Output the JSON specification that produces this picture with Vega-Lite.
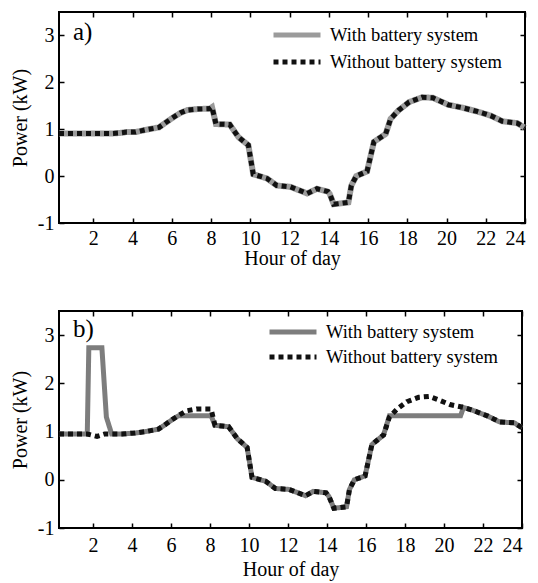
{
  "$schema": "https://vega.github.io/schema/vega-lite/v6.json",
  "padding": {"left": 9, "top": 10, "right": 4, "bottom": 2},
  "config": {
    "font": "Liberation Serif",
    "view": {"stroke": "black", "strokeWidth": 2},
    "axis": {"domain": false, "grid": false, "tickColor": "black", "tickWidth": 1.5, "tickSize": -5, "labelFont": "Liberation Serif", "labelFontSize": 20, "labelColor": "black", "titleFont": "Liberation Serif", "titleFontSize": 20, "titleFontWeight": "normal", "titleColor": "black", "labelPadding": 10}
  },
  "datasets": {
    "rows": [
      {"panel":"a","series":"With battery system","hour":0.25,"power":0.91},
      {"panel":"a","series":"With battery system","hour":1,"power":0.91},
      {"panel":"a","series":"With battery system","hour":2,"power":0.91},
      {"panel":"a","series":"With battery system","hour":3,"power":0.91},
      {"panel":"a","series":"With battery system","hour":3.35,"power":0.92},
      {"panel":"a","series":"With battery system","hour":3.7,"power":0.94},
      {"panel":"a","series":"With battery system","hour":4.15,"power":0.94},
      {"panel":"a","series":"With battery system","hour":4.7,"power":0.99},
      {"panel":"a","series":"With battery system","hour":5.35,"power":1.04},
      {"panel":"a","series":"With battery system","hour":5.65,"power":1.13},
      {"panel":"a","series":"With battery system","hour":6.1,"power":1.26},
      {"panel":"a","series":"With battery system","hour":6.45,"power":1.35},
      {"panel":"a","series":"With battery system","hour":6.8,"power":1.41},
      {"panel":"a","series":"With battery system","hour":7.3,"power":1.43},
      {"panel":"a","series":"With battery system","hour":7.95,"power":1.44},
      {"panel":"a","series":"With battery system","hour":8.05,"power":1.47},
      {"panel":"a","series":"With battery system","hour":8.25,"power":1.11},
      {"panel":"a","series":"With battery system","hour":8.95,"power":1.1},
      {"panel":"a","series":"With battery system","hour":9.4,"power":0.83},
      {"panel":"a","series":"With battery system","hour":9.9,"power":0.66},
      {"panel":"a","series":"With battery system","hour":10.15,"power":0.04},
      {"panel":"a","series":"With battery system","hour":10.85,"power":-0.05},
      {"panel":"a","series":"With battery system","hour":11.35,"power":-0.2},
      {"panel":"a","series":"With battery system","hour":12.05,"power":-0.23},
      {"panel":"a","series":"With battery system","hour":12.9,"power":-0.37},
      {"panel":"a","series":"With battery system","hour":13.4,"power":-0.27},
      {"panel":"a","series":"With battery system","hour":13.95,"power":-0.33},
      {"panel":"a","series":"With battery system","hour":14.05,"power":-0.38},
      {"panel":"a","series":"With battery system","hour":14.25,"power":-0.6},
      {"panel":"a","series":"With battery system","hour":15.0,"power":-0.56},
      {"panel":"a","series":"With battery system","hour":15.15,"power":-0.2},
      {"panel":"a","series":"With battery system","hour":15.4,"power":0.0},
      {"panel":"a","series":"With battery system","hour":15.95,"power":0.1},
      {"panel":"a","series":"With battery system","hour":16.3,"power":0.73},
      {"panel":"a","series":"With battery system","hour":16.9,"power":0.9},
      {"panel":"a","series":"With battery system","hour":17.15,"power":1.22},
      {"panel":"a","series":"With battery system","hour":17.55,"power":1.4},
      {"panel":"a","series":"With battery system","hour":18.1,"power":1.58},
      {"panel":"a","series":"With battery system","hour":18.75,"power":1.68},
      {"panel":"a","series":"With battery system","hour":19.3,"power":1.67},
      {"panel":"a","series":"With battery system","hour":20.1,"power":1.52},
      {"panel":"a","series":"With battery system","hour":20.8,"power":1.46},
      {"panel":"a","series":"With battery system","hour":21.55,"power":1.38},
      {"panel":"a","series":"With battery system","hour":22.25,"power":1.29},
      {"panel":"a","series":"With battery system","hour":22.85,"power":1.17},
      {"panel":"a","series":"With battery system","hour":23.6,"power":1.13},
      {"panel":"a","series":"With battery system","hour":24,"power":1.03},
      {"panel":"a","series":"Without battery system","hour":0.25,"power":0.91},
      {"panel":"a","series":"Without battery system","hour":1,"power":0.91},
      {"panel":"a","series":"Without battery system","hour":2,"power":0.91},
      {"panel":"a","series":"Without battery system","hour":3,"power":0.91},
      {"panel":"a","series":"Without battery system","hour":3.35,"power":0.92},
      {"panel":"a","series":"Without battery system","hour":3.7,"power":0.94},
      {"panel":"a","series":"Without battery system","hour":4.15,"power":0.94},
      {"panel":"a","series":"Without battery system","hour":4.7,"power":0.99},
      {"panel":"a","series":"Without battery system","hour":5.35,"power":1.04},
      {"panel":"a","series":"Without battery system","hour":5.65,"power":1.13},
      {"panel":"a","series":"Without battery system","hour":6.1,"power":1.26},
      {"panel":"a","series":"Without battery system","hour":6.45,"power":1.35},
      {"panel":"a","series":"Without battery system","hour":6.8,"power":1.41},
      {"panel":"a","series":"Without battery system","hour":7.3,"power":1.43},
      {"panel":"a","series":"Without battery system","hour":7.95,"power":1.44},
      {"panel":"a","series":"Without battery system","hour":8.05,"power":1.47},
      {"panel":"a","series":"Without battery system","hour":8.25,"power":1.11},
      {"panel":"a","series":"Without battery system","hour":8.95,"power":1.1},
      {"panel":"a","series":"Without battery system","hour":9.4,"power":0.83},
      {"panel":"a","series":"Without battery system","hour":9.9,"power":0.66},
      {"panel":"a","series":"Without battery system","hour":10.15,"power":0.04},
      {"panel":"a","series":"Without battery system","hour":10.85,"power":-0.05},
      {"panel":"a","series":"Without battery system","hour":11.35,"power":-0.2},
      {"panel":"a","series":"Without battery system","hour":12.05,"power":-0.23},
      {"panel":"a","series":"Without battery system","hour":12.9,"power":-0.37},
      {"panel":"a","series":"Without battery system","hour":13.4,"power":-0.27},
      {"panel":"a","series":"Without battery system","hour":13.95,"power":-0.33},
      {"panel":"a","series":"Without battery system","hour":14.05,"power":-0.38},
      {"panel":"a","series":"Without battery system","hour":14.25,"power":-0.6},
      {"panel":"a","series":"Without battery system","hour":15.0,"power":-0.56},
      {"panel":"a","series":"Without battery system","hour":15.15,"power":-0.2},
      {"panel":"a","series":"Without battery system","hour":15.4,"power":0.0},
      {"panel":"a","series":"Without battery system","hour":15.95,"power":0.1},
      {"panel":"a","series":"Without battery system","hour":16.3,"power":0.73},
      {"panel":"a","series":"Without battery system","hour":16.9,"power":0.9},
      {"panel":"a","series":"Without battery system","hour":17.15,"power":1.22},
      {"panel":"a","series":"Without battery system","hour":17.55,"power":1.4},
      {"panel":"a","series":"Without battery system","hour":18.1,"power":1.58},
      {"panel":"a","series":"Without battery system","hour":18.75,"power":1.68},
      {"panel":"a","series":"Without battery system","hour":19.3,"power":1.67},
      {"panel":"a","series":"Without battery system","hour":20.1,"power":1.52},
      {"panel":"a","series":"Without battery system","hour":20.8,"power":1.46},
      {"panel":"a","series":"Without battery system","hour":21.55,"power":1.38},
      {"panel":"a","series":"Without battery system","hour":22.25,"power":1.29},
      {"panel":"a","series":"Without battery system","hour":22.85,"power":1.17},
      {"panel":"a","series":"Without battery system","hour":23.6,"power":1.13},
      {"panel":"a","series":"Without battery system","hour":24,"power":1.03},
      {"panel":"b","series":"With battery system","hour":0.25,"power":0.95},
      {"panel":"b","series":"With battery system","hour":1,"power":0.95},
      {"panel":"b","series":"With battery system","hour":1.7,"power":0.95},
      {"panel":"b","series":"With battery system","hour":1.78,"power":2.74},
      {"panel":"b","series":"With battery system","hour":2.45,"power":2.74},
      {"panel":"b","series":"With battery system","hour":2.68,"power":1.3},
      {"panel":"b","series":"With battery system","hour":2.95,"power":0.95},
      {"panel":"b","series":"With battery system","hour":3.5,"power":0.95},
      {"panel":"b","series":"With battery system","hour":4.15,"power":0.97},
      {"panel":"b","series":"With battery system","hour":4.7,"power":1.0},
      {"panel":"b","series":"With battery system","hour":5.35,"power":1.05},
      {"panel":"b","series":"With battery system","hour":5.65,"power":1.13},
      {"panel":"b","series":"With battery system","hour":6.1,"power":1.26},
      {"panel":"b","series":"With battery system","hour":6.4,"power":1.33},
      {"panel":"b","series":"With battery system","hour":8.05,"power":1.33},
      {"panel":"b","series":"With battery system","hour":8.25,"power":1.13},
      {"panel":"b","series":"With battery system","hour":8.95,"power":1.1},
      {"panel":"b","series":"With battery system","hour":9.4,"power":0.85},
      {"panel":"b","series":"With battery system","hour":9.9,"power":0.67},
      {"panel":"b","series":"With battery system","hour":10.15,"power":0.05},
      {"panel":"b","series":"With battery system","hour":10.85,"power":-0.03},
      {"panel":"b","series":"With battery system","hour":11.35,"power":-0.18},
      {"panel":"b","series":"With battery system","hour":12.05,"power":-0.2},
      {"panel":"b","series":"With battery system","hour":12.9,"power":-0.33},
      {"panel":"b","series":"With battery system","hour":13.3,"power":-0.24},
      {"panel":"b","series":"With battery system","hour":13.95,"power":-0.27},
      {"panel":"b","series":"With battery system","hour":14.1,"power":-0.35},
      {"panel":"b","series":"With battery system","hour":14.35,"power":-0.59},
      {"panel":"b","series":"With battery system","hour":15.0,"power":-0.56},
      {"panel":"b","series":"With battery system","hour":15.15,"power":-0.2},
      {"panel":"b","series":"With battery system","hour":15.4,"power":0.0},
      {"panel":"b","series":"With battery system","hour":15.95,"power":0.08},
      {"panel":"b","series":"With battery system","hour":16.3,"power":0.73},
      {"panel":"b","series":"With battery system","hour":16.9,"power":0.93},
      {"panel":"b","series":"With battery system","hour":17.2,"power":1.33},
      {"panel":"b","series":"With battery system","hour":20.85,"power":1.33},
      {"panel":"b","series":"With battery system","hour":21.0,"power":1.5},
      {"panel":"b","series":"With battery system","hour":21.55,"power":1.43},
      {"panel":"b","series":"With battery system","hour":22.25,"power":1.32},
      {"panel":"b","series":"With battery system","hour":22.85,"power":1.2},
      {"panel":"b","series":"With battery system","hour":23.6,"power":1.18},
      {"panel":"b","series":"With battery system","hour":24,"power":1.08},
      {"panel":"b","series":"Without battery system","hour":0.25,"power":0.95},
      {"panel":"b","series":"Without battery system","hour":1,"power":0.95},
      {"panel":"b","series":"Without battery system","hour":1.7,"power":0.95},
      {"panel":"b","series":"Without battery system","hour":2.2,"power":0.9},
      {"panel":"b","series":"Without battery system","hour":2.6,"power":0.95},
      {"panel":"b","series":"Without battery system","hour":3,"power":0.95},
      {"panel":"b","series":"Without battery system","hour":3.5,"power":0.95},
      {"panel":"b","series":"Without battery system","hour":4.15,"power":0.97},
      {"panel":"b","series":"Without battery system","hour":4.7,"power":1.0},
      {"panel":"b","series":"Without battery system","hour":5.35,"power":1.05},
      {"panel":"b","series":"Without battery system","hour":5.65,"power":1.13},
      {"panel":"b","series":"Without battery system","hour":6.1,"power":1.26},
      {"panel":"b","series":"Without battery system","hour":6.45,"power":1.35},
      {"panel":"b","series":"Without battery system","hour":6.8,"power":1.43},
      {"panel":"b","series":"Without battery system","hour":7.3,"power":1.47},
      {"panel":"b","series":"Without battery system","hour":7.95,"power":1.47},
      {"panel":"b","series":"Without battery system","hour":8.05,"power":1.47},
      {"panel":"b","series":"Without battery system","hour":8.25,"power":1.13},
      {"panel":"b","series":"Without battery system","hour":8.95,"power":1.1},
      {"panel":"b","series":"Without battery system","hour":9.4,"power":0.85},
      {"panel":"b","series":"Without battery system","hour":9.9,"power":0.67},
      {"panel":"b","series":"Without battery system","hour":10.15,"power":0.05},
      {"panel":"b","series":"Without battery system","hour":10.85,"power":-0.03},
      {"panel":"b","series":"Without battery system","hour":11.35,"power":-0.18},
      {"panel":"b","series":"Without battery system","hour":12.05,"power":-0.2},
      {"panel":"b","series":"Without battery system","hour":12.9,"power":-0.33},
      {"panel":"b","series":"Without battery system","hour":13.3,"power":-0.24},
      {"panel":"b","series":"Without battery system","hour":13.95,"power":-0.27},
      {"panel":"b","series":"Without battery system","hour":14.1,"power":-0.35},
      {"panel":"b","series":"Without battery system","hour":14.35,"power":-0.59},
      {"panel":"b","series":"Without battery system","hour":15.0,"power":-0.56},
      {"panel":"b","series":"Without battery system","hour":15.15,"power":-0.2},
      {"panel":"b","series":"Without battery system","hour":15.4,"power":0.0},
      {"panel":"b","series":"Without battery system","hour":15.95,"power":0.08},
      {"panel":"b","series":"Without battery system","hour":16.3,"power":0.73},
      {"panel":"b","series":"Without battery system","hour":16.9,"power":0.93},
      {"panel":"b","series":"Without battery system","hour":17.2,"power":1.3},
      {"panel":"b","series":"Without battery system","hour":17.6,"power":1.47},
      {"panel":"b","series":"Without battery system","hour":18.1,"power":1.62},
      {"panel":"b","series":"Without battery system","hour":18.7,"power":1.71},
      {"panel":"b","series":"Without battery system","hour":19.25,"power":1.73},
      {"panel":"b","series":"Without battery system","hour":19.7,"power":1.66},
      {"panel":"b","series":"Without battery system","hour":20.3,"power":1.56},
      {"panel":"b","series":"Without battery system","hour":21.0,"power":1.5},
      {"panel":"b","series":"Without battery system","hour":21.55,"power":1.43},
      {"panel":"b","series":"Without battery system","hour":22.25,"power":1.32},
      {"panel":"b","series":"Without battery system","hour":22.85,"power":1.2},
      {"panel":"b","series":"Without battery system","hour":23.6,"power":1.18},
      {"panel":"b","series":"Without battery system","hour":24,"power":1.08}
    ]
  },
  "data": {"name": "rows"},
  "spacing": 40,
  "resolve": {
    "scale": {"x": "independent", "y": "independent", "color": "independent", "strokeDash": "independent"},
    "legend": {"color": "independent", "strokeDash": "independent"}
  },
  "vconcat": [
    {
      "width": 466,
      "height": 211,
      "title": {"text": "a)", "anchor": "start", "frame": "group", "offset": -34, "dx": 14, "fontSize": 25, "fontWeight": "normal", "font": "Liberation Serif", "color": "black"},
      "transform": [{"filter": "datum.panel == 'a'"}],
      "layer": [
        {
          "transform": [{"filter": "datum.series == 'With battery system'"}],
          "mark": {"type": "line", "strokeWidth": 6, "strokeCap": "butt"},
          "encoding": {
            "x": {"field": "hour", "type": "quantitative", "scale": {"domain": [0.25, 24], "nice": false, "zero": false}, "axis": {"values": [2,4,6,8,10,12,14,16,18,20,22,24], "title": "Hour of day", "titlePadding": 0, "labelFont": "Liberation Serif", "titleFont": "Liberation Serif"}},
            "y": {"field": "power", "type": "quantitative", "scale": {"domain": [-1, 3.5], "nice": false, "zero": false}, "axis": {"values": [-1,0,1,2,3], "labelExpr": "'' + datum.value", "title": "Power (kW)", "titlePadding": 7, "labelFont": "Liberation Serif", "titleFont": "Liberation Serif"}},
            "color": {"field": "series", "type": "nominal", "scale": {"domain": ["With battery system", "Without battery system"], "range": ["#9b9b9b", "#111111"]},
              "legend": {"title": null, "orient": "none", "legendX": 212, "legendY": 13, "symbolType": "stroke", "symbolSize": 2209, "symbolStrokeWidth": 5, "clipHeight": 20, "rowPadding": 7, "labelFontSize": 18.5, "labelFont": "Liberation Serif", "labelColor": "black", "labelOffset": 7, "padding": 0, "labelLimit": 300}},
            "strokeDash": {"field": "series", "type": "nominal", "scale": {"domain": ["With battery system", "Without battery system"], "range": [[1, 0], [5, 4]]},
              "legend": {"title": null, "orient": "none", "legendX": 212, "legendY": 13, "symbolType": "stroke", "symbolSize": 2209, "symbolStrokeWidth": 5, "clipHeight": 20, "rowPadding": 7, "labelFontSize": 18.5, "labelFont": "Liberation Serif", "labelColor": "black", "labelOffset": 7, "padding": 0, "labelLimit": 300}}
          }
        },
        {
          "transform": [{"filter": "datum.series == 'Without battery system'"}],
          "mark": {"type": "line", "strokeWidth": 5, "strokeCap": "butt"},
          "encoding": {
            "x": {"field": "hour", "type": "quantitative", "axis": null},
            "y": {"field": "power", "type": "quantitative", "axis": null},
            "color": {"field": "series", "type": "nominal"},
            "strokeDash": {"field": "series", "type": "nominal"}
          }
        },
        {
          "mark": {"type": "point", "opacity": 0},
          "encoding": {
            "x": {"field": "hour", "type": "quantitative", "axis": {"orient": "top", "values": [2,4,6,8,10,12,14,16,18,20,22,24], "labels": false, "title": null}},
            "y": {"field": "power", "type": "quantitative", "axis": {"orient": "right", "values": [-1,0,1,2,3], "labels": false, "title": null}}
          }
        }
      ],
      "resolve": {"axis": {"x": "independent", "y": "independent"}}
    },
    {
      "width": 463,
      "height": 217,
      "title": {"text": "b)", "anchor": "start", "frame": "group", "offset": -32, "dx": 14, "fontSize": 25, "fontWeight": "normal", "font": "Liberation Serif", "color": "black"},
      "transform": [{"filter": "datum.panel == 'b'"}],
      "layer": [
        {
          "transform": [{"filter": "datum.series == 'With battery system'"}],
          "mark": {"type": "line", "strokeWidth": 5, "strokeCap": "butt"},
          "encoding": {
            "x": {"field": "hour", "type": "quantitative", "scale": {"domain": [0.25, 24], "nice": false, "zero": false}, "axis": {"values": [2,4,6,8,10,12,14,16,18,20,22,24], "title": "Hour of day", "titlePadding": 4, "labelPadding": 12, "labelFont": "Liberation Serif", "titleFont": "Liberation Serif"}},
            "y": {"field": "power", "type": "quantitative", "scale": {"domain": [-1, 3.5], "nice": false, "zero": false}, "axis": {"values": [-1,0,1,2,3], "labelExpr": "'' + datum.value", "title": "Power (kW)", "titlePadding": 7, "labelFont": "Liberation Serif", "titleFont": "Liberation Serif"}},
            "color": {"field": "series", "type": "nominal", "scale": {"domain": ["With battery system", "Without battery system"], "range": ["#7d7d7d", "#111111"]},
              "legend": {"title": null, "orient": "none", "legendX": 208, "legendY": 11, "symbolType": "stroke", "symbolSize": 2209, "symbolStrokeWidth": 5, "clipHeight": 20, "rowPadding": 5, "labelFontSize": 18.5, "labelFont": "Liberation Serif", "labelColor": "black", "labelOffset": 7, "padding": 0, "labelLimit": 300}},
            "strokeDash": {"field": "series", "type": "nominal", "scale": {"domain": ["With battery system", "Without battery system"], "range": [[1, 0], [5, 4]]},
              "legend": {"title": null, "orient": "none", "legendX": 208, "legendY": 11, "symbolType": "stroke", "symbolSize": 2209, "symbolStrokeWidth": 5, "clipHeight": 20, "rowPadding": 5, "labelFontSize": 18.5, "labelFont": "Liberation Serif", "labelColor": "black", "labelOffset": 7, "padding": 0, "labelLimit": 300}}
          }
        },
        {
          "transform": [{"filter": "datum.series == 'Without battery system'"}],
          "mark": {"type": "line", "strokeWidth": 5, "strokeCap": "butt"},
          "encoding": {
            "x": {"field": "hour", "type": "quantitative", "axis": null},
            "y": {"field": "power", "type": "quantitative", "axis": null},
            "color": {"field": "series", "type": "nominal"},
            "strokeDash": {"field": "series", "type": "nominal"}
          }
        },
        {
          "mark": {"type": "point", "opacity": 0},
          "encoding": {
            "x": {"field": "hour", "type": "quantitative", "axis": {"orient": "top", "values": [2,4,6,8,10,12,14,16,18,20,22,24], "labels": false, "title": null}},
            "y": {"field": "power", "type": "quantitative", "axis": {"orient": "right", "values": [-1,0,1,2,3], "labels": false, "title": null}}
          }
        }
      ],
      "resolve": {"axis": {"x": "independent", "y": "independent"}}
    }
  ]
}
